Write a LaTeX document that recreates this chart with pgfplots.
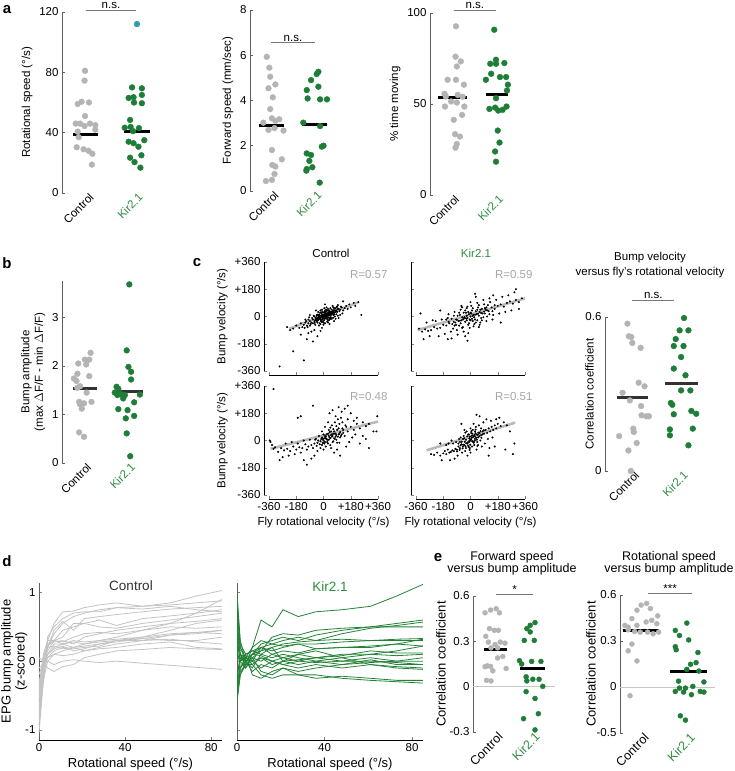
\documentclass[border=0pt]{standalone}
\usepackage{pgfplots}
\pgfplotsset{compat=1.18}
\usepackage{pgfplotstable}
\usepackage{fontspec}
\setmainfont{Liberation Sans}

\definecolor{ctl}{RGB}{180,180,180}
\definecolor{kir}{RGB}{30,125,55}
\definecolor{kirtxt}{RGB}{45,140,65}
\definecolor{axg}{RGB}{95,95,95}
\definecolor{sig}{RGB}{120,120,120}
\definecolor{cyn}{RGB}{40,160,165}
\definecolor{dctl}{RGB}{195,195,195}
\definecolor{dkir}{RGB}{35,130,55}
\definecolor{dark}{RGB}{50,50,50}

\newcommand{\fs}{\fontsize{11.5}{13.5}\selectfont}
\newcommand{\fl}{\fontsize{13}{14}\selectfont}
\newcommand{\fe}{\fontsize{12.5}{14}\selectfont}

\pgfplotsset{
  every axis/.append style={font=\fs, /pgf/number format/assume math mode=true},
  dotax/.style={
    scale only axis, clip=false,
    axis y line*=left, axis x line*=bottom,
    x axis line style={draw=none},
    y axis line style={draw=axg, line width=0.9pt},
    xtick={1,2}, xticklabels={Control,{\color{kirtxt}Kir2.1}},
    xtick style={draw=none},
    xticklabel style={rotate=45, anchor=north east, inner sep=1pt, xshift=3pt},
    ytick style={draw=axg, line width=0.6pt},
    tick align=inside, major tick length=3pt,
  },
  big/.style={label style={font=\fl}, xticklabel style={font=\fe}},
  ctlm/.style={only marks, mark=*, mark size=2.9pt, color=ctl},
  kirm/.style={only marks, mark=*, mark size=2.9pt, color=kir},
  meanb/.style={black, line width=3pt},
  sigb/.style={sig, line width=0.9pt},
  scat/.style={
    scale only axis, clip=false, width=109pt, height=109pt,
    xmin=-360, xmax=360, ymin=-360, ymax=360,
    axis lines*=left, axis x line shift=4pt, axis y line shift=5pt,
    xtick={-360,-180,0,180,360}, ytick={-360,-180,0,180,360},
    tick align=inside, major tick length=2.5pt,
    x axis line style={line width=0.8pt}, y axis line style={line width=0.8pt},
  },
  sc/.style={only marks, mark=*, mark size=0.8pt, color=black},
  rg/.style={gray!55, line width=2.6pt},
  dax/.style={
    scale only axis, height=157pt, xmin=0, xmax=85, ymin=-1.15, ymax=1.14,
    axis lines*=left, xtick={0,40,80}, ytick={-1,0,1},
    tick align=inside, major tick length=3pt,
    x axis line style={line width=0.8pt}, y axis line style={draw=axg, line width=0.8pt},
    xlabel={Rotational speed (°/s)}, label style={font=\fl},
  },
}

\pgfplotstableread{
x c1 c2 c3 c4 c5 c6 c7 c8 c9 c10 c11 c12 c13 c14 c15 c16 c17 c18
0 -1.05 -0.90 -0.80 -0.70 -0.60 -0.50 -0.95 -0.40 -0.30 -0.20 -0.85 0.05 -0.10 -0.60 -0.45 -0.75 -0.35 -0.55
2 -0.30 -0.20 -0.10 -0.05 0.00 0.05 -0.25 0.05 -0.05 0.00 -0.30 0.00 -0.05 -0.10 0.10 -0.10 0.05 0.00
4 0.30 0.35 0.20 0.25 0.15 0.25 0.10 0.20 0.10 0.05 0.00 -0.10 0.00 0.05 0.30 0.20 0.22 0.10
7 0.55 0.50 0.45 0.30 0.30 0.28 0.25 0.22 0.20 0.15 0.10 -0.15 -0.05 0.10 0.30 0.40 0.30 0.18
11 0.72 0.62 0.58 0.35 0.45 0.30 0.25 0.18 0.25 0.20 0.15 -0.08 0.00 0.08 0.25 0.55 0.28 0.22
16 0.73 0.70 0.45 0.55 0.50 0.25 0.20 0.20 0.28 0.18 0.20 -0.05 0.02 0.10 0.30 0.65 0.35 0.15
21 0.78 0.72 0.62 0.55 0.55 0.35 0.25 0.22 0.25 0.20 0.15 0.05 0.00 0.15 0.28 0.70 0.40 0.18
28 0.82 0.72 0.65 0.60 0.50 0.40 0.28 0.25 0.30 0.22 0.20 0.10 -0.02 0.18 0.30 0.75 0.42 0.25
36 0.85 0.78 0.68 0.52 0.48 0.45 0.30 0.28 0.32 0.30 0.25 0.15 0.00 0.20 0.35 0.78 0.40 0.30
48 0.80 0.80 0.72 0.62 0.55 0.50 0.35 0.33 0.35 0.33 0.30 0.17 -0.03 0.25 0.45 0.76 0.45 0.30
61 0.82 0.85 0.76 0.66 0.60 0.55 0.45 0.38 0.40 0.30 0.32 0.20 -0.06 0.28 0.55 0.80 0.50 0.38
73 0.85 0.95 0.78 0.70 0.65 0.58 0.55 0.40 0.42 0.30 0.28 0.18 -0.09 0.20 0.70 0.75 0.48 0.42
85 0.88 1.03 0.80 0.75 0.70 0.62 0.60 0.45 0.40 0.35 0.25 0.17 -0.12 0.18 0.90 0.72 0.50 0.45
}\dctl

\pgfplotstableread{
x k1 k2 k3 k4 k5 k6 k7 k8 k9 k10 k11 k12 k13 k14 k15 k16 k17 k18 k19
0 0.40 1.00 0.80 0.60 -0.60 -0.50 0.30 -0.40 0.50 -0.30 0.70 -0.45 0.20 -0.20 0.10 -0.55 0.90 0.35 -0.35
1.5 0.10 0.30 0.20 0.10 -0.20 -0.10 0.00 0.00 0.10 0.10 0.20 -0.15 -0.10 0.05 0.00 -0.20 0.25 0.00 -0.10
4 -0.05 0.00 0.05 -0.10 0.00 0.05 -0.10 0.10 0.00 0.05 0.00 -0.05 0.00 0.00 0.10 -0.05 0.10 0.05 0.05
7 0.20 0.10 0.20 0.05 0.10 0.00 0.10 0.15 0.05 -0.05 -0.10 0.00 -0.15 0.05 -0.20 -0.05 0.15 0.00 0.10
11 0.60 0.25 0.30 0.15 0.15 0.20 0.20 0.10 0.00 0.05 0.10 -0.10 -0.05 -0.15 -0.25 -0.20 0.20 0.05 0.08
16 0.50 0.30 0.25 0.35 0.20 0.15 0.25 0.20 0.10 0.00 0.05 0.00 -0.10 -0.20 -0.15 -0.25 0.10 -0.05 0.00
21 0.75 0.35 0.30 0.40 0.25 0.20 0.22 0.00 0.05 -0.05 0.10 -0.05 0.00 -0.10 -0.10 -0.20 0.15 0.00 0.05
28 0.65 0.30 0.35 0.38 0.28 0.25 0.25 0.10 0.00 0.00 0.05 -0.10 -0.05 -0.15 -0.20 -0.20 0.12 0.02 0.10
36 0.72 0.38 0.30 0.45 0.30 0.25 0.18 0.15 0.05 -0.02 0.00 -0.05 0.00 -0.10 -0.20 -0.25 0.18 0.05 0.05
48 0.75 0.45 0.40 0.48 0.32 0.28 0.20 0.05 0.08 0.00 -0.05 -0.10 0.05 -0.05 -0.25 -0.22 0.20 0.00 0.10
61 0.80 0.50 0.48 0.50 0.30 0.30 0.20 0.10 0.15 0.05 0.02 -0.05 -0.05 -0.02 -0.28 -0.25 0.22 0.00 0.10
73 0.95 0.55 0.52 0.50 0.30 0.32 0.25 0.15 0.12 0.00 -0.05 -0.08 -0.10 0.00 -0.30 -0.28 0.25 -0.02 0.08
85 1.12 0.60 0.57 0.50 0.30 0.33 0.32 0.22 0.12 0.00 -0.05 -0.10 -0.12 0.05 -0.32 -0.28 0.22 -0.05 0.10
}\dkirt

\begin{document}
\begin{tikzpicture}[x=1pt,y=1pt,font=\fs]
\path[use as bounding box] (0,0) rectangle (734,771);

% ---------- a: rotational speed
\begin{axis}[dotax, at={(62pt,578pt)}, width=98pt, height=181pt,
  xmin=0.5, xmax=2.5, ymin=0, ymax=120, ytick={0,40,80,120},
  ylabel={Rotational speed (°/s)}]
\addplot[ctlm] coordinates {(0.97,81) (0.96,74.5) (0.82,59) (0.9,60.5) (1.05,60) (0.97,51) (0.78,46) (0.87,46) (0.96,44.4) (1.07,46) (1.18,45) (0.82,40.7) (1.18,42) (0.84,37) (0.8,30.3) (0.94,29) (1.04,28) (1.12,26) (1.11,18.8)};
\addplot[kirm] coordinates {(1.93,70) (2.13,69.4) (1.86,63) (1.96,63.5) (2.13,65) (1.97,60) (2.13,59.5) (1.89,48.4) (1.78,43.3) (1.9,43.8) (2.07,43) (1.95,41) (1.86,34) (1.96,33) (2.06,30.7) (2.18,35) (1.89,23.4) (2.12,25) (1.98,20.5) (2.1,16.8)};
\addplot[only marks, mark=*, mark size=2.9pt, color=cyn] coordinates {(2.03,112)};
\addplot[meanb] coordinates {(0.73,38.7) (1.24,38.7)};
\addplot[meanb] coordinates {(1.76,40.8) (2.29,40.8)};
\addplot[sigb] coordinates {(0.98,121.3) (2.02,121.3)};
\node[anchor=south, inner sep=1pt] at (axis cs:1.5,121.3) {n.s.};
\end{axis}

% ---------- a: forward speed
\begin{axis}[dotax, at={(250pt,580pt)}, width=86pt, height=181pt,
  xmin=0.5, xmax=2.5, ymin=0, ymax=8, ytick={0,2,4,6,8},
  ylabel={Forward speed (mm/sec)}]
\addplot[ctlm] coordinates {(0.89,5.93) (0.95,5.45) (0.97,5.05) (0.93,4.54) (1.09,4.71) (1.03,4.14) (0.97,3.62) (1.01,3.21) (1.18,3.17) (0.81,3.02) (1.09,3.1) (0.93,2.7) (1.07,2.78) (1.28,2.67) (1.01,1.81) (1.24,1.4) (1.02,1.15) (1.09,1.08) (1.07,0.75) (1.01,0.49) (0.87,0.44)};
\addplot[kirm] coordinates {(2.09,5.27) (2.05,5.17) (1.92,4.9) (1.82,4.46) (2.09,4.61) (1.84,4.09) (2.13,4.05) (2.29,4.05) (1.74,3.02) (2.13,2.87) (2.21,2.0) (2.17,1.96) (1.82,1.66) (1.92,1.59) (1.88,1.33) (1.95,1.05) (1.81,0.9) (1.82,0.97) (2.12,0.37)};
\addplot[meanb] coordinates {(0.7,2.9) (1.3,2.9)};
\addplot[meanb] coordinates {(1.7,2.92) (2.3,2.92)};
\addplot[sigb] coordinates {(0.98,6.55) (2.02,6.55)};
\node[anchor=south, inner sep=1pt] at (axis cs:1.5,6.55) {n.s.};
\end{axis}

% ---------- a: % time moving
\begin{axis}[dotax, at={(430pt,576pt)}, width=88pt, height=182pt,
  xmin=0.5, xmax=2.5, ymin=0, ymax=100, ytick={0,50,100},
  ylabel={\% time moving}]
\addplot[ctlm] coordinates {(1.09,92.7) (1.08,76) (1.2,73.4) (1.11,70.6) (0.9,63.3) (1.09,63.3) (1.27,60.6) (0.83,55.6) (0.86,54.1) (1.13,55) (1.24,54) (0.98,51.4) (1.11,50.8) (1.28,48.6) (0.84,48.6) (1.23,44) (1.04,41.3) (1.07,33.4) (1.18,32.1) (1.11,28) (1.08,26)};
\addplot[kirm] coordinates {(1.96,90.8) (2.0,74.3) (1.87,72.1) (2.0,72.1) (2.19,72.5) (1.89,66.6) (2.09,64.8) (2.23,64.8) (1.77,63.3) (2.27,60.6) (2.25,57.4) (2.0,53.2) (1.85,47.3) (1.98,48) (2.05,46.4) (2.15,46.8) (2.24,48.6) (2.04,35.4) (2.08,28.8) (1.98,23.9) (2.0,18.3)};
\addplot[meanb] coordinates {(0.68,53.3) (1.34,53.3)};
\addplot[meanb] coordinates {(1.77,55) (2.27,55)};
\addplot[sigb] coordinates {(1.05,101.6) (2.0,101.6)};
\node[anchor=south, inner sep=1pt] at (axis cs:1.52,101.6) {n.s.};
\end{axis}

% ---------- b: bump amplitude
\begin{axis}[dotax, at={(62pt,308pt)}, width=88pt, height=182pt,
  xmin=0.5, xmax=2.5, ymin=0, ymax=3.75, ytick={0,1,2,3},
  ylabel={Bump amplitude\\(max \(\Delta\)F/F - min \(\Delta\)F/F)}, ylabel style={align=center}]
\addplot[ctlm] coordinates {(1.15,2.27) (1.02,2.13) (1.12,2.13) (0.87,2.05) (1.05,2.03) (0.85,1.84) (1.12,1.79) (0.77,1.74) (0.83,1.69) (0.91,1.58) (0.85,1.55) (1.06,1.45) (0.89,1.26) (1.0,1.23) (1.17,1.26) (0.91,1.21) (0.95,1.12) (0.89,0.63) (1.0,0.54)};
\addplot[kirm] coordinates {(2.03,3.68) (1.97,2.32) (2.01,1.98) (2.07,1.88) (2.07,1.72) (1.74,1.57) (1.78,1.53) (1.7,1.45) (1.83,1.42) (1.93,1.4) (2.27,1.41) (1.76,1.4) (1.89,1.33) (2.14,1.25) (1.78,1.11) (1.99,1.09) (2.14,0.97) (1.95,0.92) (1.97,0.61) (2.05,0.14)};
\addplot[dark, line width=3pt] coordinates {(0.75,1.53) (1.3,1.53)};
\addplot[dark, line width=3pt] coordinates {(1.66,1.48) (2.34,1.48)};
\end{axis}

% ---------- c: scatter, control top
\begin{axis}[scat, at={(269pt,400pt)}, xticklabels={}, yticklabels={-360,-180,0,+180,+360},
  ylabel={Bump velocity (°/s)}]
\addplot[sc] coordinates {(0,0) (10,5) (-10,-5) (20,10) (-20,-8) (5,15) (15,-5) (-5,10) (25,20) (30,5) (-15,5) (8,-12) (35,15) (40,25) (-25,-15) (12,22) (22,-2) (-8,-20) (45,10) (50,30) (-30,0) (18,35) (28,-10) (-35,-20) (55,20) (-12,18) (3,-25) (38,40) (60,35) (-40,-10) (70,25) (-45,-30) (15,45) (-18,-30) (65,10) (48,-5) (-50,-15) (80,40) (30,50) (-55,-25) (90,30) (-60,-35) (75,55) (-5,30) (42,-18) (100,50) (-70,-20) (85,15) (-22,25) (110,45) (-80,-40) (120,60) (-90,-30) (60,70) (5,55) (-100,-45) (130,40) (-65,5) (95,75) (-110,-60) (140,55) (-120,-40) (25,-35) (-35,30) (150,70) (-130,-55) (160,50) (-140,-70) (170,80) (-150,-45) (180,60) (-160,-75) (200,90) (-180,-60) (210,70) (-200,-80) (230,95) (-220,-90) (-240,-70) (250,10) (-100,-110) (-80,-100) (-60,-90) (-120,-20) (40,-50) (-30,-60) (10,80) (-50,40) (70,-30) (-20,-50) (110,10) (-90,10) (0,-40) (130,100) (-10,-75) (-150,-120) (-20,-95) (-110,-150) (-200,-230) (-290,-330) (-130,-290) (-40,-130) (-70,-165) (2,8) (-3,-3) (14,2) (33,28) (-28,-12)
 (-2,4) (6,-6) (12,12) (-14,-2) (18,4) (24,12) (-6,-14) (28,18) (32,22) (-18,-18) (36,8) (4,26) (16,-14) (-24,6) (42,32) (-32,-8) (46,20) (52,12) (-38,-26) (58,28) (8,36) (-42,12) (26,-22) (62,18) (-48,-22) (68,38) (-12,-36) (36,-6) (72,14) (20,42) (-28,14) (44,-12) (78,30) (-52,-8) (54,46) (-16,28) (84,36) (64,-8) (-58,-42) (92,48)
 (-100,-20) (-90,-60) (-75,-10) (-70,-45) (-60,0) (-55,-55) (-45,5) (-40,-40) (-35,10) (-25,-45) (-15,-25) (-5,-35) (5,-15) (15,30) (25,40) (35,-25) (45,55) (55,-15) (65,60) (75,0) (85,60) (95,5) (105,35) (115,65) (125,20) (-85,-50) (-95,-5) (-105,-70) (-115,-30) (-125,-75) (100,-10) (90,65) (80,-15) (70,50) (-20,40) (-10,45) (0,-55) (10,-45) (20,60) (30,-40)};
\addplot[rg] coordinates {(-225,-80) (225,92)};
\end{axis}

% ---------- c: scatter, Kir2.1 top
\begin{axis}[scat, at={(416pt,400pt)}, xticklabels={}, yticklabels={}]
\addplot[sc] coordinates {(0,0) (20,10) (-20,-10) (40,15) (-40,-5) (60,30) (-60,-25) (80,20) (-80,-30) (100,45) (-100,-40) (120,35) (-120,-50) (140,60) (-140,-45) (160,50) (-160,-60) (180,70) (-180,-55) (200,80) (-200,-75) (220,65) (-220,-80) (240,90) (-240,-70) (260,100) (-260,-90) (280,85) (-280,-95) (300,110) (-300,-85) (320,95) (-320,-100) (340,120) (-340,-80) (10,40) (-10,-45) (30,-20) (-30,25) (50,60) (-50,-70) (70,-10) (-70,10) (90,80) (-90,-90) (110,0) (-110,5) (130,95) (-130,-100) (150,10) (-150,-10) (170,110) (-170,-115) (190,20) (-190,-20) (210,130) (-210,-130) (230,30) (-230,-30) (250,140) (-250,-25) (270,40) (-270,-130) (290,160) (-290,-40) (5,70) (-5,-75) (25,-50) (-25,55) (45,90) (-45,-100) (65,-40) (-65,45) (85,110) (-85,-120) (105,-30) (-105,30) (125,120) (-125,-145) (145,-20) (-145,15) (0,95) (-15,-110) (35,130) (-35,-130) (55,-70) (-55,60) (15,-30) (-15,30) (75,50) (-75,-60) (95,20) (-95,-20) (115,75) (-115,-80) (35,35) (-35,-35) (55,5) (-55,-5) (10,-15) (-10,15) (60,-55) (-60,70) (320,50) (300,180) (-330,20) (-310,-150) (200,-40) (-200,40) (150,140) (-150,-150) (-20,-160) (30,150) (5,20) (-25,-25) (45,45) (-45,-15) (15,5) (-5,-20)
 (-30,-12) (30,12) (-50,-20) (50,18) (-70,-28) (70,24) (-90,-22) (90,32) (-110,-36) (110,40) (0,25) (0,-25) (25,-5) (-25,5) (45,-25) (-45,25) (65,45) (-65,-45) (85,-5) (-85,5) (105,60) (-105,-60) (125,15) (-125,-15) (145,35) (-145,-35) (15,55) (-15,-55) (35,-40) (-35,40) (55,75) (-55,-75) (75,-25) (-75,25) (95,55) (-95,-55) (20,-65) (-20,65) (160,75) (-160,-20)};
\addplot[rg] coordinates {(-350,-90) (360,120)};
\end{axis}

% ---------- c: scatter, control bottom
\begin{axis}[scat, at={(269pt,276pt)}, xticklabels={-360,-180,0,+180,+360}, yticklabels={-360,-180,0,+180,+360},
  ylabel={Bump velocity (°/s)}, xlabel={Fly rotational velocity (°/s)}]
\addplot[sc] coordinates {(0,0) (20,10) (40,20) (60,30) (80,25) (100,40) (-20,-5) (-40,-15) (10,30) (30,45) (50,60) (70,15) (90,70) (110,55) (130,50) (-10,20) (5,-20) (25,-10) (45,-30) (65,-5) (85,5) (105,-15) (125,80) (145,100) (160,60) (180,90) (200,70) (220,110) (240,80) (260,120) (280,95) (300,110) (330,60) (355,160) (-60,-20) (-80,-30) (-100,-40) (-120,-25) (-140,-50) (-160,-45) (-180,-60) (-200,-40) (-220,-70) (-240,-55) (-260,-65) (-280,-50) (-300,-75) (-320,-45) (-340,-30) (-355,0) (-350,-10) (-330,-55) (-30,30) (-50,10) (-70,-50) (-90,5) (-110,-60) (-130,0) (-150,-80) (-170,-20) (-190,-90) (-210,-10) (-230,-100) (-250,-20) (-270,-110) (-150,160) (-170,150) (-80,-120) (-60,-100) (-40,-70) (-20,-50) (0,-60) (15,-40) (35,70) (55,100) (75,120) (95,140) (115,150) (40,180) (60,200) (80,160) (100,220) (120,190) (140,210) (160,140) (180,180) (200,130) (220,150) (240,-20) (260,30) (280,10) (300,-50) (150,-40) (170,-10) (190,20) (210,40) (10,90) (-10,60) (30,120) (50,-50) (70,-80) (90,-60) (110,-100) (-110,-160) (-130,-130) (-330,340) (-70,230) (160,230) (350,60) (-290,-130) (15,15) (35,5) (55,40) (75,45) (-5,10)
 (5,15) (15,25) (25,5) (35,30) (45,15) (55,25) (65,45) (75,10) (85,35) (95,25) (105,45) (115,30) (10,-10) (20,40) (30,-20) (40,55) (50,35) (60,-10) (70,60) (80,45) (90,-15) (100,80) (110,20) (120,40) (-5,-15) (-15,10) (-25,-25) (-35,0) (-45,-35) (-55,5) (130,70) (140,30) (150,90) (0,40) (-10,-30) (45,85) (65,75) (85,95) (105,110) (125,120)};
\addplot[rg] coordinates {(-350,-55) (360,125)};
\end{axis}

% ---------- c: scatter, Kir2.1 bottom
\begin{axis}[scat, at={(416pt,276pt)}, xticklabels={-360,-180,0,+180,+360}, yticklabels={},
  xlabel={Fly rotational velocity (°/s)}]
\addplot[sc] coordinates {(0,0) (10,20) (-10,-10) (20,30) (-20,-20) (30,10) (-30,5) (40,40) (-40,-30) (50,20) (-50,-40) (60,50) (-60,-25) (70,35) (-70,-50) (80,60) (-80,-40) (90,45) (-90,-60) (100,70) (-100,-55) (110,50) (-110,-70) (120,80) (-120,-65) (130,60) (-130,-75) (140,90) (-140,-80) (150,70) (-150,-60) (160,100) (-160,-90) (170,80) (-170,-70) (180,110) (-180,-85) (200,95) (-200,-100) (220,120) (-220,-80) (240,100) (-240,-95) (260,60) (-260,-90) (290,-20) (280,-90) (5,50) (-5,-50) (15,70) (-15,40) (25,-30) (-25,60) (35,90) (-35,-70) (45,-10) (-45,30) (55,100) (-55,-80) (65,0) (-65,20) (75,-40) (-75,10) (85,120) (-85,-100) (95,-20) (-95,-10) (105,140) (-105,-120) (115,10) (-115,-20) (125,-50) (-125,0) (135,130) (-135,-130) (145,20) (-145,-20) (0,80) (0,-80) (20,110) (-20,-100) (40,-60) (-40,70) (10,-40) (-10,40) (30,60) (-30,-50) (50,-30) (-50,10) (70,80) (-70,-10) (160,-40) (-160,-30) (190,150) (-190,-130) (60,160) (40,170) (230,-60) (120,-100) (-60,110) (-200,-20) (170,140) (5,10) (-5,25) (15,-5) (25,35) (-15,-35)
 (2,5) (-8,12) (12,-8) (18,22) (-18,-12) (28,28) (-28,-18) (38,18) (-38,-8) (48,38) (-48,-28) (8,32) (-2,-28) (22,-15) (-22,28) (32,48) (-32,-38) (42,5) (-42,15) (52,52) (-52,-52) (58,28) (-58,-8) (12,45) (-12,-42) (28,-2) (-8,-2) (66,62) (-66,-32) (72,18) (-72,-62) (34,72) (-34,52) (6,62) (-6,-62) (80,40) (-80,-20) (88,68) (-88,-72) (46,-36)};
\addplot[rg] coordinates {(-290,-65) (295,118)};
\end{axis}

% ---------- c: correlation coefficient
\begin{axis}[dotax, at={(605pt,300pt)}, width=100pt, height=154pt,
  xmin=0.45, xmax=2.5, ymin=0, ymax=0.6, ytick={0,0.6}, yticklabels={0,0.6},
  ylabel={Correlation coefficient}, ylabel shift=-15pt]
\addplot[ctlm] coordinates {(0.91,0.574) (0.94,0.525) (0.99,0.522) (1.01,0.499) (1.18,0.48) (1.14,0.344) (1.26,0.33) (0.81,0.305) (0.96,0.275) (1.19,0.253) (1.2,0.217) (1.3,0.213) (1.35,0.213) (1.03,0.165) (1.04,0.152) (0.74,0.136) (1.1,0.109) (0.93,0.08) (0.98,0.0)};
\addplot[kirm] coordinates {(2.07,0.596) (1.98,0.548) (2.16,0.548) (1.9,0.514) (1.86,0.487) (2.06,0.487) (2.01,0.444) (1.86,0.399) (2.1,0.373) (2.01,0.314) (2.2,0.314) (1.8,0.265) (1.83,0.258) (1.86,0.221) (2.22,0.234) (2.32,0.223) (1.78,0.162) (2.25,0.165) (1.78,0.139) (2.16,0.1)};
\addplot[dark, line width=3pt] coordinates {(0.69,0.286) (1.33,0.286)};
\addplot[dark, line width=3pt] coordinates {(1.67,0.339) (2.35,0.339)};
\addplot[sigb] coordinates {(1.0,0.666) (1.87,0.666)};
\node[anchor=south, inner sep=1pt] at (axis cs:1.44,0.666) {n.s.};
\end{axis}

% ---------- d: control lines
\begin{axis}[dax, at={(39pt,31pt)}, width=183pt,
  ylabel={EPG bump amplitude\\(z-scored)}, ylabel style={align=center}, ylabel shift=-9pt]
\pgfplotsinvokeforeach{1,...,18}{\addplot[dctl, line width=0.8pt] table[x=x, y=c#1] {\dctl};}
\end{axis}

% ---------- d: Kir2.1 lines
\begin{axis}[dax, at={(237pt,31pt)}, width=186pt, yticklabels={}]
\pgfplotsinvokeforeach{1,...,19}{\addplot[dkir, line width=0.8pt] table[x=x, y=k#1] {\dkirt};}
\end{axis}

% ---------- e: forward speed vs bump amplitude
\begin{axis}[dotax, big, at={(473pt,39pt)}, width=82pt, height=136pt,
  xmin=0.405, xmax=2.62, ymin=-0.3, ymax=0.6, ytick={-0.3,0,0.3,0.6}, yticklabels={-0.3,0,0.3,0.6},
  ylabel={Correlation coefficient}, ylabel shift=-3pt]
\addplot[gray!45, line width=0.8pt] coordinates {(0.405,0) (2.62,0)};
\addplot[ctlm, mark size=2.5pt] coordinates {(0.88,0.507) (1.03,0.516) (0.73,0.489) (1.12,0.489) (0.85,0.384) (0.98,0.373) (1.09,0.373) (0.75,0.333) (0.82,0.295) (1.0,0.279) (1.14,0.295) (1.27,0.288) (0.89,0.257) (1.07,0.257) (1.21,0.2) (1.07,0.19) (0.79,0.138) (0.88,0.134) (0.73,0.132) (1.3,0.12) (0.94,0.105) (0.77,0.042) (0.89,0.038)};
\addplot[kirm, mark size=2.5pt] coordinates {(2.08,0.424) (1.95,0.406) (1.86,0.384) (1.95,0.362) (1.79,0.306) (2.06,0.306) (1.66,0.172) (1.99,0.167) (2.24,0.167) (1.72,0.15) (1.84,0.065) (2.19,0.049) (2.29,0.002) (1.86,0.038) (2.02,0.049) (1.84,-0.033) (2.08,-0.078) (2.17,-0.179) (1.77,-0.212) (2.08,-0.286)};
\addplot[meanb] coordinates {(0.7,0.248) (1.32,0.248)};
\addplot[meanb] coordinates {(1.67,0.12) (2.35,0.12)};
\addplot[sigb] coordinates {(1.03,0.607) (2.03,0.607)};
\node[anchor=south, inner sep=1pt] at (axis cs:1.53,0.607) {*};
\end{axis}

% ---------- e: rotational speed vs bump amplitude
\begin{axis}[dotax, big, at={(620pt,38pt)}, width=95pt, height=138pt,
  xmin=0.543, xmax=2.6, ymin=-0.3, ymax=0.6, ytick={-0.3,0,0.3,0.6}, yticklabels={-0.5,0,0.3,0.6},
  ylabel={Correlation coefficient}, ylabel shift=-6pt]
\addplot[gray!45, line width=0.8pt] coordinates {(0.543,0) (2.6,0)};
\addplot[ctlm, mark size=2.5pt] coordinates {(1.0,0.534) (1.12,0.545) (1.2,0.512) (0.91,0.501) (0.8,0.446) (0.65,0.402) (0.72,0.39) (0.91,0.402) (1.11,0.424) (1.23,0.435) (1.36,0.464) (1.34,0.413) (0.72,0.373) (0.86,0.362) (0.98,0.358) (1.14,0.358) (1.26,0.347) (1.38,0.358) (0.8,0.28) (0.72,0.236) (0.91,0.17) (0.76,-0.057)};
\addplot[kirm, mark size=2.5pt] coordinates {(1.99,0.417) (1.74,0.369) (1.83,0.336) (2.03,0.307) (1.74,0.263) (1.76,0.243) (2.23,0.225) (2.19,0.159) (2.07,0.148) (1.99,0.115) (2.25,0.104) (1.81,0.038) (2.36,0.033) (2.12,0.004) (1.96,-0.007) (1.83,-0.007) (1.74,-0.029) (1.92,-0.033) (2.09,-0.05) (2.36,-0.033) (2.28,-0.029) (1.85,-0.188) (1.96,-0.216)};
\addplot[meanb] coordinates {(0.61,0.369) (1.39,0.369)};
\addplot[meanb] coordinates {(1.63,0.104) (2.43,0.104)};
\addplot[sigb] coordinates {(1.15,0.61) (2.11,0.61)};
\node[anchor=south, inner sep=1pt] at (axis cs:1.63,0.61) {***};
\end{axis}

% ---------- panel letters and titles
\begin{scope}[every node/.style={font=\bfseries\fontsize{15}{15}\selectfont, inner sep=0pt}]
\node at (7,761) {a};
\node at (7,508) {b};
\node at (197,508) {c};
\node at (7,210) {d};
\node at (438,213) {e};
\end{scope}
\node at (331,518) {Control};
\node[text=kirtxt] at (476,518) {Kir2.1};
\node at (650,513) {Bump velocity};
\node at (650,498) {versus fly's rotational velocity};
\begin{scope}[every node/.style={font=\fe}]
\node at (512,214) {Forward speed};
\node at (512,202) {versus bump amplitude};
\node at (669,214) {Rotational speed};
\node at (669,202) {versus bump amplitude};
\end{scope}
\node[text=gray!70, anchor=east] at (391,496) {R=0.57};
\node[text=gray!70, anchor=east] at (536,496) {R=0.59};
\node[text=gray!70, anchor=east] at (391,374) {R=0.48};
\node[text=gray!70, anchor=east] at (536,374) {R=0.51};
\node[font=\fontsize{13.5}{15}\selectfont, text=dark] at (131,185) {Control};
\node[font=\fontsize{13.5}{15}\selectfont, text=kirtxt] at (330,184) {Kir2.1};
\end{tikzpicture}
\end{document}
